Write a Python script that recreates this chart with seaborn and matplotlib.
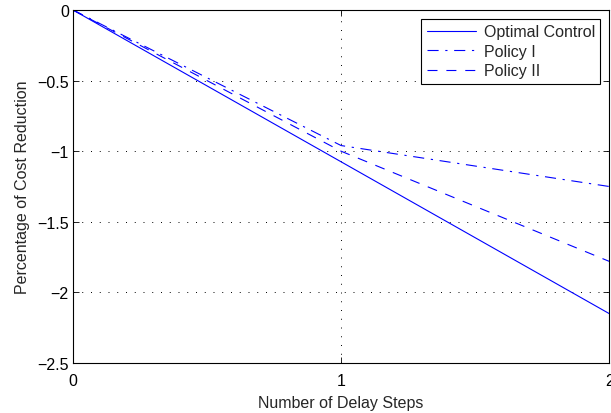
import matplotlib
matplotlib.use("Agg")
import matplotlib.pyplot as plt
import seaborn as sns
import pandas as pd

delay_steps = [0, 1, 2]
optimal_control = [0.0, -1.075, -2.15]
policy_1 = [0.0, -0.96, -1.25]
policy_2 = [0.0, -1.0, -1.78]
series_names = ["Optimal Control", "Policy I", "Policy II"]
x_ticks = [0, 1, 2]
y_ticks = [0, -0.5, -1, -1.5, -2, -2.5]

sns.set_theme(style="white")
plt.rcParams['font.family'] = ['Liberation Sans', 'DejaVu Sans']

df = pd.DataFrame({
    "x": delay_steps * 3,
    "y": optimal_control + policy_1 + policy_2,
    "series": sum([[n] * len(delay_steps) for n in series_names], []),
})

fig = plt.figure(figsize=(6.11, 4.14), dpi=100)
ax = fig.add_axes([0.1195, 0.1208, 0.8775, 0.8526])

styles = {"Optimal Control": "-", "Policy I": (0, (10, 6, 2, 6)), "Policy II": (0, (9, 8))}
for name in series_names:
    sub = df[df["series"] == name]
    sns.lineplot(data=sub, x="x", y="y", ax=ax, color="#0000ff", lw=0.8,
                 linestyle=styles[name], label=name)

ax.set_xlim(0, 2)
ax.set_ylim(-2.5, 0)
ax.set_xticks(x_ticks)
ax.set_yticks(y_ticks)
ax.set_xticklabels([str(t) for t in x_ticks])
ax.set_yticklabels(["0", "\u22120.5", "\u22121", "\u22121.5", "\u22122", "\u22122.5"])
ax.tick_params(direction="in", length=4, labelsize=11.5, colors="black", top=True, right=True,
               bottom=True, left=True, width=0.6, pad=3)
ax.tick_params(axis="x", pad=7)
ax.grid(True, linestyle=(0, (1, 8)), color="black", lw=0.7)
for s in ax.spines.values():
    s.set_color("black")
    s.set_linewidth(0.8)
ax.set_xlabel("Number of Delay Steps", fontsize=11.5, labelpad=5)
ax.set_ylabel("Percentage of Cost Reduction", fontsize=11.5, labelpad=5)

leg = ax.legend(loc="upper right", fontsize=11.5, frameon=True, fancybox=False,
                edgecolor="black", framealpha=1, borderaxespad=0.55, handlelength=3.1,
                borderpad=0.35, labelspacing=0.28, handletextpad=0.45)
leg.get_frame().set_linewidth(0.8)

fig.savefig("out.png", dpi=100)
